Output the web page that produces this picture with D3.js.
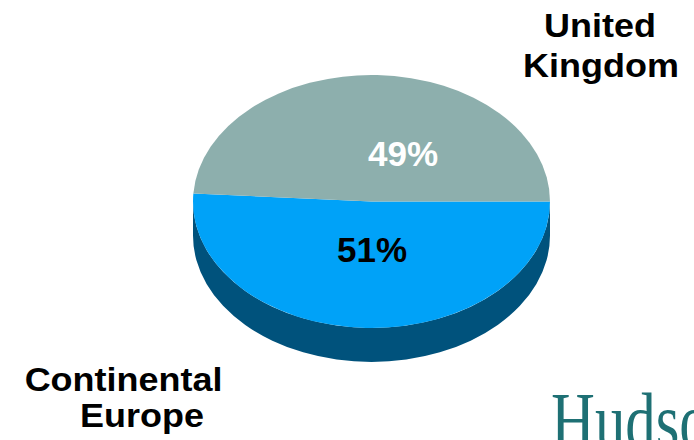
<!DOCTYPE html>
<html><head><meta charset="utf-8">
<script src="https://cdn.jsdelivr.net/npm/d3@7"></script>
<style>html,body{margin:0;padding:0;background:#fff;overflow:hidden}svg{display:block}</style>
</head><body>
<svg id="chart" width="694" height="440"></svg>
<script>
// ---- data ----
const categories = ["Continental Europe", "United Kingdom"];
const shares = [51, 49];
const labelLines = [["Continental", "Europe"], ["United", "Kingdom"]];
const valueLabels = ["51%", "49%"];

// ---- layout / style ----
const W = 694, H = 440;
const cx = 371.5, cy = 201.5, rx = 178.5, ry = 126.5, depth = 34;
const topColors = ["#00A2F8", "#8DAFAD"];
const sideColors = ["#00527C", "#5E7C7A"];
const valueColors = ["#000000", "#ffffff"];
const valuePos = [[372, 262], [403, 166]];
const namePos = [[[123.5, 391], [142, 427]], [[600, 37], [601, 77]]];
const font = "'Liberation Sans', Arial, sans-serif";

const svg = d3.select("#chart");

const pie = d3.pie().sort(null).value(d => d)
  .startAngle(Math.PI / 2).endAngle(Math.PI / 2 + 2 * Math.PI);
const arcs = pie(shares);

// side walls (front half only, screen param phi in [0, PI])
function sidePath(p0, p1) {
  const x0 = cx + rx * Math.cos(p0), y0 = cy + ry * Math.sin(p0);
  const x1 = cx + rx * Math.cos(p1), y1 = cy + ry * Math.sin(p1);
  return `M${x0},${y0} A${rx},${ry} 0 0 1 ${x1},${y1} L${x1},${y1 + depth} A${rx},${ry} 0 0 0 ${x0},${y0 + depth} Z`;
}
arcs.forEach((a, i) => {
  const s = a.startAngle - Math.PI / 2, e = a.endAngle - Math.PI / 2;
  [[0, Math.PI], [2 * Math.PI, 3 * Math.PI]].forEach(([lo, hi]) => {
    const p0 = Math.max(s, lo), p1 = Math.min(e, hi);
    if (p1 > p0) {
      svg.append("path").attr("d", sidePath(p0, p1)).attr("fill", sideColors[i]);
    }
  });
});

// top face
const arcGen = d3.arc().innerRadius(0).outerRadius(rx);
svg.append("g")
  .attr("transform", `translate(${cx},${cy}) scale(1,${ry / rx})`)
  .selectAll("path").data(arcs).join("path")
  .attr("d", arcGen)
  .attr("fill", (d, i) => topColors[i]);

// value labels
svg.selectAll("text.val").data(valueLabels).join("text")
  .attr("class", "val")
  .attr("x", (d, i) => valuePos[i][0]).attr("y", (d, i) => valuePos[i][1])
  .attr("text-anchor", "middle")
  .attr("font-family", font).attr("font-weight", "bold").attr("font-size", 35)
  .attr("fill", (d, i) => valueColors[i])
  .text(d => d);

// category labels
labelLines.forEach((lines, i) => {
  lines.forEach((ln, j) => {
    const [x, y] = namePos[i][j];
    svg.append("text")
      .attr("transform", `translate(${x},${y}) scale(1.09,1)`)
      .attr("font-family", font).attr("font-weight", "bold").attr("font-size", 33)
      .attr("text-anchor", "middle").attr("fill", "#000")
      .text(ln);
  });
});

// logo text (cut by the right/bottom edge, as in the reference)
svg.append("text")
  .attr("transform", "translate(551,448) scale(0.76,1)")
  .attr("font-family", "'Liberation Serif', 'DejaVu Serif', serif")
  .attr("font-size", 80).attr("fill", "#1E7074")
  .text("Hudson");
</script>
</body></html>
